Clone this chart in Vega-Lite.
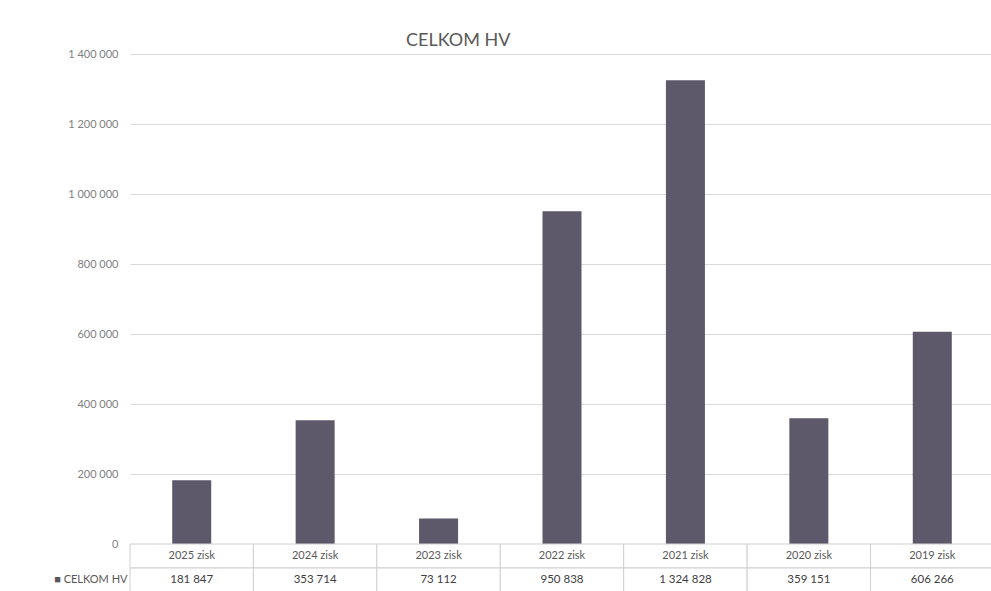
{
  "$schema": "https://vega.github.io/schema/vega-lite/v6.json",
  "padding": {"left": 53, "top": 32, "right": 0, "bottom": 0},
  "background": "white",
  "spacing": 0,
  "bounds": "flush",
  "config": {
    "font": "Lato",
    "view": {"stroke": null},
    "locale": {"number": {"decimal": ",", "thousands": " ", "grouping": [3], "currency": ["", ""]}}
  },
  "data": {
    "values": [
      {"category": "2025 zisk", "value": 181847},
      {"category": "2024 zisk", "value": 353714},
      {"category": "2023 zisk", "value": 73112},
      {"category": "2022 zisk", "value": 950838},
      {"category": "2021 zisk", "value": 1324828},
      {"category": "2020 zisk", "value": 359151},
      {"category": "2019 zisk", "value": 606266}
    ]
  },
  "vconcat": [
    {
      "width": 864,
      "height": 490,
      "title": {
        "text": "CELKOM HV",
        "fontSize": 18,
        "fontWeight": "normal",
        "color": "#595959",
        "anchor": "start",
        "frame": "group",
        "dx": 276,
        "offset": -2
      },
      "mark": {"type": "bar", "size": 39, "color": "#5d596a"},
      "encoding": {
        "x": {
          "field": "category",
          "type": "nominal",
          "sort": null,
          "scale": {"paddingInner": 0, "paddingOuter": 0},
          "axis": null
        },
        "y": {
          "field": "value",
          "type": "quantitative",
          "scale": {"domain": [0, 1400000], "nice": false},
          "axis": {
            "title": null,
            "values": [0, 200000, 400000, 600000, 800000, 1000000, 1200000, 1400000],
            "format": ",d",
            "domain": false,
            "ticks": false,
            "labelPadding": 12,
            "labelFontSize": 11,
            "labelColor": "#808080",
            "gridColor": "#d9d9d9",
            "gridWidth": 1
          }
        }
      }
    },
    {
      "width": 864,
      "height": 48,
      "encoding": {
        "x": {
          "field": "category",
          "type": "nominal",
          "sort": null,
          "scale": {"paddingInner": 0, "paddingOuter": 0},
          "axis": null
        }
      },
      "layer": [
        {
          "mark": {"type": "rect", "fill": "white", "stroke": "#d0d0d0", "strokeWidth": 1},
          "encoding": {
            "y": {
              "datum": "a",
              "type": "nominal",
              "scale": {"domain": ["a", "b"], "paddingInner": 0, "paddingOuter": 0},
              "axis": {
                "title": null,
                "domain": false,
                "ticks": false,
                "labelExpr": "datum.value == 'b' ? '■ CELKOM HV' : ''",
                "labelFontSize": 11,
                "labelColor": "#595959",
                "labelPadding": 3
              }
            }
          }
        },
        {
          "mark": {"type": "rect", "fill": "white", "stroke": "#d0d0d0", "strokeWidth": 1},
          "encoding": {"y": {"datum": "b", "type": "nominal"}}
        },
        {
          "mark": {"type": "text", "fontSize": 11, "color": "#595959"},
          "encoding": {
            "y": {"datum": "a", "type": "nominal"},
            "text": {"field": "category", "type": "nominal"}
          }
        },
        {
          "mark": {"type": "text", "fontSize": 11.5, "color": "#404040"},
          "encoding": {
            "y": {"datum": "b", "type": "nominal"},
            "text": {"field": "value", "type": "quantitative", "format": ",d"}
          }
        }
      ]
    }
  ]
}
